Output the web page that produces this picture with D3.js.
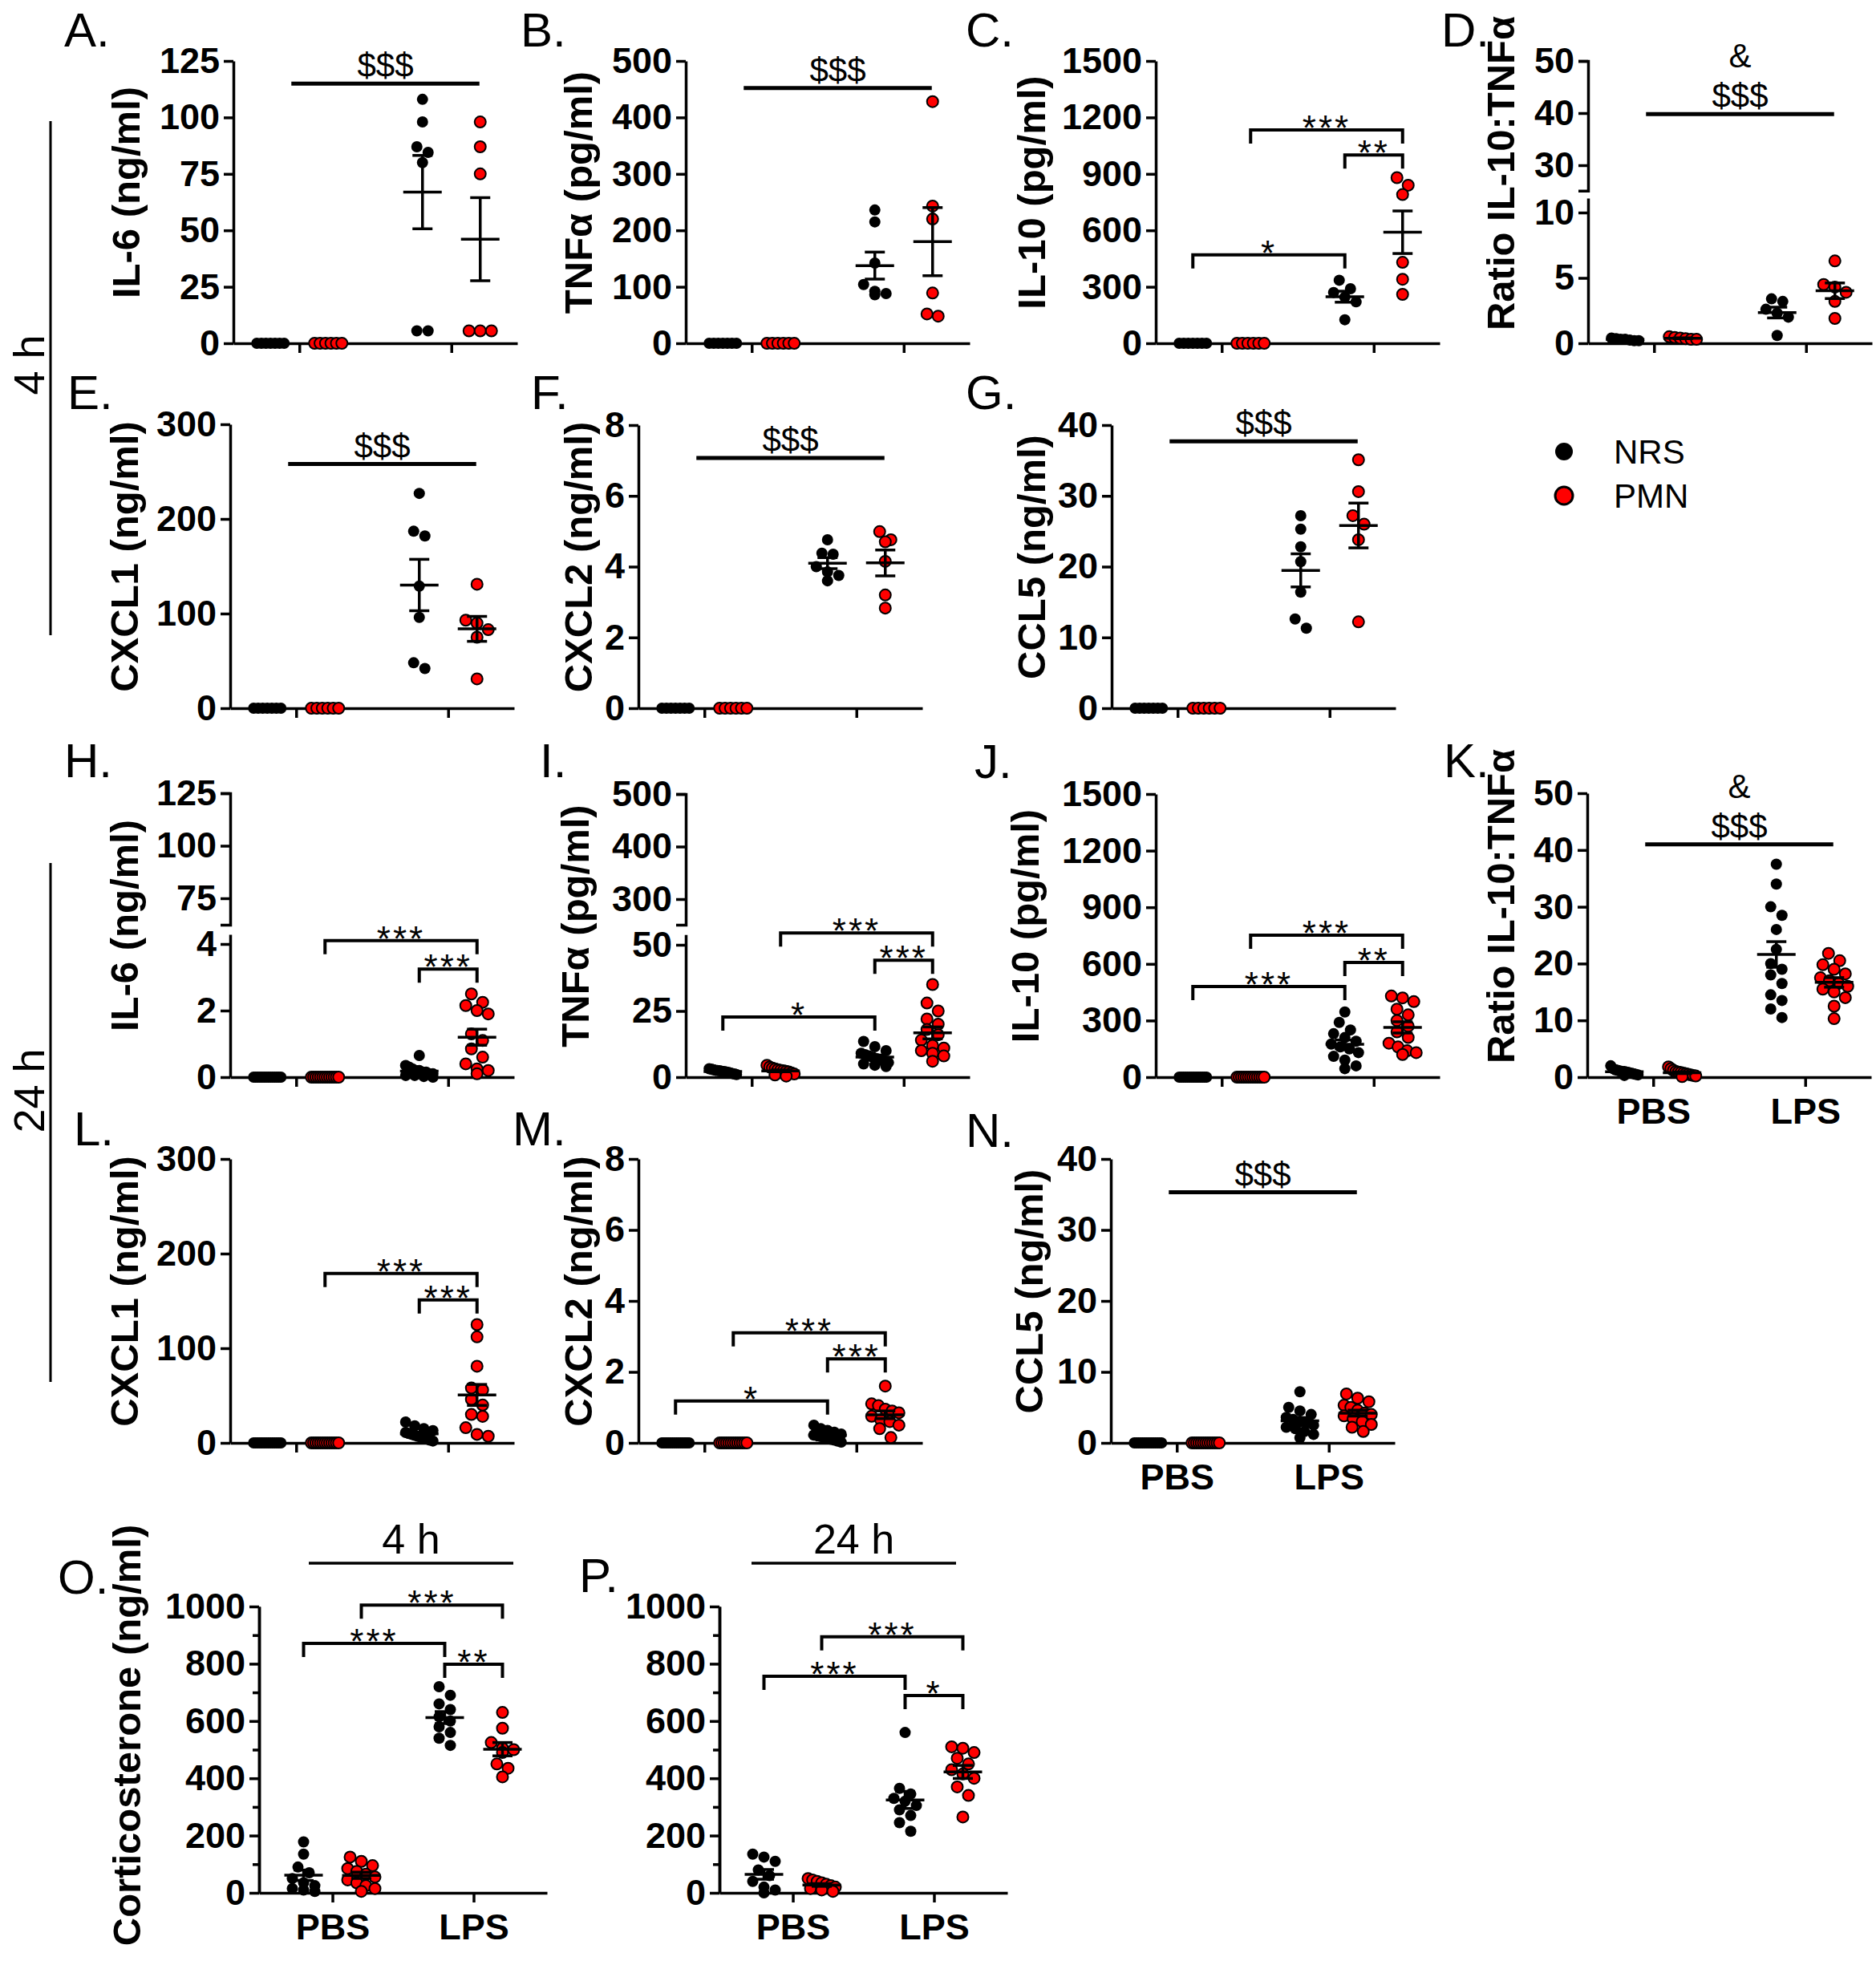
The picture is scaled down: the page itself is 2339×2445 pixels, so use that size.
<!DOCTYPE html>
<html>
<head>
<meta charset="utf-8">
<script src="https://cdn.jsdelivr.net/npm/d3@7"></script>
<style>
  body { margin: 0; background: #fff; }
  text { font-family: "Liberation Sans", Arial, sans-serif; }
</style>
</head>
<body>
<div id="chart"></div>
<script>
/* Cytokine / corticosterone dot plots, panels A-P */

// groups: NRS-PBS, PMN-PBS, NRS-LPS, PMN-LPS
const treatments = ["PBS", "LPS"];
const strains = ["NRS", "PMN"];

// ---- 4 h values ----
const il6_4h = [
  [0, 0, 0, 0, 0, 0, 0],
  [0, 0, 0, 0, 0, 0],
  [108, 98, 87, 84.5, 80, 5.5, 5.5],
  [98, 87, 75, 5.5, 5.5, 5.5],
];
const tnf_4h = [
  [0, 0, 0, 0, 0, 0, 0],
  [0, 0, 0, 0, 0, 0],
  [236, 215, 142, 104, 92, 88, 86],
  [428, 243, 220, 89, 52, 48],
];
const il10_4h = [
  [0, 0, 0, 0, 0, 0, 0],
  [0, 0, 0, 0, 0, 0],
  [335, 290, 270, 245, 220, 125],
  [880, 840, 790, 430, 340, 260],
];
const ratio_4h = [
  [0.4, 0.35, 0.3, 0.3, 0.25, 0.2, 0.2],
  [0.5, 0.45, 0.4, 0.35, 0.3, 0.3],
  [3.4, 3.2, 2.6, 2.3, 2.0, 0.6],
  [6.3, 4.5, 4.3, 3.9, 3.2, 1.9],
];
const cxcl1_4h = [
  [0, 0, 0, 0, 0, 0, 0],
  [0, 0, 0, 0, 0, 0],
  [227, 187, 182, 129, 96, 48, 42],
  [131, 93, 90, 83, 75, 31],
];
const cxcl2_4h = [
  [0, 0, 0, 0, 0, 0, 0],
  [0, 0, 0, 0, 0, 0],
  [4.76, 4.38, 4.35, 4.0, 3.85, 3.75, 3.6],
  [4.99, 4.76, 4.7, 4.15, 3.2, 2.83],
];
const ccl5_4h = [
  [0, 0, 0, 0, 0, 0, 0],
  [0, 0, 0, 0, 0, 0],
  [27.2, 25.3, 22.8, 20.7, 16.4, 12.6, 11.3],
  [35.1, 30.6, 27.2, 26.0, 23.8, 12.2],
];

// ---- 24 h values ----
const il6_24h = [
  [0, 0, 0, 0, 0, 0, 0, 0, 0, 0, 0, 0, 0, 0],
  [0, 0, 0, 0, 0, 0, 0, 0, 0, 0, 0, 0, 0],
  [0.65, 0.35, 0.3, 0.25, 0.2, 0.2, 0.15, 0.15, 0.1, 0.1, 0.05, 0.05, 0.02, 0],
  [2.5, 2.25, 2.15, 2.0, 1.9, 1.3, 1.1, 0.85, 0.6, 0.4, 0.25, 0.2, 0.1],
];
const tnf_24h = [
  [3.2, 3, 2.8, 2.6, 2.5, 2.4, 2.2, 2.1, 2, 1.8, 1.6, 1.4, 1.2, 1],
  [4.5, 3.8, 3.4, 3.1, 2.8, 2.6, 2.4, 2.2, 2, 1.6, 1.2, 0.8, 0.4],
  [13.5, 11.5, 10, 9, 8.5, 8, 7.5, 7, 6.5, 6, 5.5, 5, 4.5, 4],
  [35, 28, 25, 22, 20, 18, 16, 14, 12, 11, 10, 9, 8, 6],
];
const il10_24h = [
  [0, 0, 0, 0, 0, 0, 0, 0, 0, 0, 0, 0, 0, 0],
  [0, 0, 0, 0, 0, 0, 0, 0, 0, 0, 0, 0, 0],
  [345, 290, 250, 230, 210, 190, 175, 160, 150, 130, 110, 90, 60, 45],
  [430, 420, 400, 360, 330, 300, 270, 240, 210, 180, 160, 140, 130, 120],
];
const ratio_24h = [
  [2, 1.5, 1.3, 1.2, 1.1, 1, 1, 0.9, 0.8, 0.7, 0.6, 0.5, 0.4, 0.3],
  [1.8, 1.5, 1.2, 1, 0.9, 0.8, 0.7, 0.6, 0.5, 0.4, 0.3, 0.2, 0.1],
  [37.5, 34, 30, 28.5, 26, 22.5, 20, 19, 18, 16.5, 14.5, 13.5, 12, 10.5],
  [21.8, 20.5, 19.8, 19, 18.2, 17.5, 17, 16.5, 16, 15.5, 15, 14, 12.5, 10.3],
];
const cxcl1_24h = [
  [0, 0, 0, 0, 0, 0, 0, 0, 0, 0, 0, 0, 0, 0],
  [0, 0, 0, 0, 0, 0, 0, 0, 0, 0, 0, 0, 0],
  [22, 18, 15, 13, 11, 10, 9, 8, 7, 6, 5, 4, 3, 2],
  [125, 112, 81, 58, 56, 46, 40, 30, 28, 16, 9, 7],
];
const cxcl2_24h = [
  [0, 0, 0, 0, 0, 0, 0, 0, 0, 0, 0, 0, 0, 0],
  [0, 0, 0, 0, 0, 0, 0, 0, 0, 0, 0, 0, 0],
  [0.5, 0.4, 0.35, 0.3, 0.25, 0.22, 0.2, 0.18, 0.15, 0.12, 0.1, 0.08, 0.05, 0.02],
  [1.6, 1.1, 1.05, 0.95, 0.9, 0.85, 0.75, 0.65, 0.6, 0.5, 0.4, 0.15],
];
const ccl5_24h = [
  [0, 0, 0, 0, 0, 0, 0, 0, 0, 0, 0, 0, 0, 0],
  [0, 0, 0, 0, 0, 0, 0, 0, 0, 0, 0, 0, 0],
  [7.2, 5.0, 4.5, 4.0, 3.6, 3.3, 3.0, 2.8, 2.5, 2.2, 2.0, 1.6, 1.2, 0.7],
  [6.9, 6.3, 5.8, 5.3, 5.0, 4.6, 4.2, 4.0, 3.8, 3.4, 3.0, 2.6, 2.2, 1.6],
];

// ---- corticosterone ----
const cort_4h = [
  [178, 135, 90, 70, 50, 35, 25, 15, 10, 5],
  [125, 110, 95, 85, 75, 65, 55, 45, 35, 25, 15, 5],
  [720, 690, 660, 640, 615, 600, 580, 560, 540, 515],
  [630, 575, 525, 505, 500, 490, 450, 435, 405],
];
const cort_24h = [
  [135, 125, 110, 80, 60, 40, 20, 10, 0],
  [50, 45, 40, 35, 30, 25, 20, 15, 10, 5],
  [560, 365, 345, 330, 320, 305, 290, 270, 245, 215],
  [510, 505, 490, 470, 450, 430, 415, 400, 370, 340, 265],
];

// ---- tick labels ----
const ticksIl6 = [0, 25, 50, 75, 100, 125];
const ticksTnf = [0, 100, 200, 300, 400, 500];
const ticksIl10 = [0, 300, 600, 900, 1200, 1500];
const ticksCxcl1 = [0, 100, 200, 300];
const ticksCxcl2 = [0, 2, 4, 6, 8];
const ticksCcl5 = [0, 10, 20, 30, 40];
const ticksRatio = [0, 10, 20, 30, 40, 50];
const ticksRatioLow = [0, 5, 10];
const ticksRatioUp = [30, 40, 50];
const ticksIl6Low = [0, 2, 4];
const ticksIl6Up = [75, 100, 125];
const ticksTnfLow = [0, 25, 50];
const ticksTnfUp = [300, 400, 500];
const ticksCort = [0, 200, 400, 600, 800, 1000];
const ticksCortMinor = [100, 300, 500, 700, 900];

// ---- significance: [from group, to group, bracket height (axis units), label] ----
const sigIl10_4h = [["NRS PBS", "NRS LPS", 470, "*"], ["PMN PBS", "PMN LPS", 1133, "***"], ["NRS LPS", "PMN LPS", 1000, "**"]];
const sigIl6_24h = [["PMN PBS", "PMN LPS", 4.1, "***"], ["NRS LPS", "PMN LPS", 3.25, "***"]];
const sigTnf_24h = [["PMN PBS", "PMN LPS", 54.5, "***"], ["NRS LPS", "PMN LPS", 44.2, "***"], ["NRS PBS", "NRS LPS", 22.7, "*"]];
const sigIl10_24h = [["PMN PBS", "PMN LPS", 752, "***"], ["NRS LPS", "PMN LPS", 608, "**"], ["NRS PBS", "NRS LPS", 480, "***"]];
const sigCxcl1_24h = [["PMN PBS", "PMN LPS", 179, "***"], ["NRS LPS", "PMN LPS", 151, "***"]];
const sigCxcl2_24h = [["PMN PBS", "PMN LPS", 3.1, "***"], ["NRS LPS", "PMN LPS", 2.37, "***"], ["NRS PBS", "NRS LPS", 1.18, "*"]];
const sigCort_4h = [["PMN PBS", "PMN LPS", 1005, "***"], ["NRS PBS", "NRS LPS", 871, "***"], ["NRS LPS", "PMN LPS", 798, "**"]];
const sigCort_24h = [["PMN PBS", "PMN LPS", 894, "***"], ["NRS PBS", "NRS LPS", 756, "***"], ["NRS LPS", "PMN LPS", 689, "*"]];

// ---- layout ----
const W = 2339, H = 2445;
const R = 7; // dot radius
const SPREAD = 34;
const RED = "#ff0000";

const svg = d3.select("#chart").append("svg").attr("width", W).attr("height", H);

const panels = [
  { letter: "A", lx: 80, ly: 58, data: il6_4h, title: "IL-6 (ng/ml)", tx: 159, ax: 291,
    low: { domain: [0, 125], range: [428, 76], ticks: ticksIl6 }, dollar: { v: 115 } },
  { letter: "B", lx: 649, ly: 58, data: tnf_4h, title: "TNFα (pg/ml)", tx: 723, ax: 855,
    low: { domain: [0, 500], range: [428, 76], ticks: ticksTnf }, dollar: { v: 452 } },
  { letter: "C", lx: 1204, ly: 58, data: il10_4h, title: "IL-10 (pg/ml)", tx: 1288, ax: 1441,
    low: { domain: [0, 1500], range: [428, 76], ticks: ticksIl10 }, sig: sigIl10_4h },
  { letter: "D", lx: 1797, ly: 58, data: ratio_4h, title: "Ratio IL-10:TNFα", tx: 1873, ax: 1980, toff: -36,
    low: { domain: [0, 10], range: [428, 265], end: 11.1, ticks: ticksRatioLow },
    up: { domain: [30, 50], range: [206, 76], start: 25.1, ticks: ticksRatioUp },
    dollar: { v: 39.8, up: true, amp: true } },
  { letter: "E", lx: 84, ly: 510, data: cxcl1_4h, title: "CXCL1 (ng/ml)", tx: 157, ax: 287,
    low: { domain: [0, 300], range: [883, 529], ticks: ticksCxcl1 }, dollar: { v: 258 } },
  { letter: "F", lx: 662, ly: 510, data: cxcl2_4h, title: "CXCL2 (ng/ml)", tx: 723, ax: 796,
    low: { domain: [0, 8], range: [883, 530], ticks: ticksCxcl2 }, dollar: { v: 7.07 } },
  { letter: "G", lx: 1204, ly: 510, data: ccl5_4h, title: "CCL5 (ng/ml)", tx: 1288, ax: 1386,
    low: { domain: [0, 40], range: [883, 530], ticks: ticksCcl5 }, dollar: { v: 37.7 } },
  { letter: "H", lx: 80, ly: 969, data: il6_24h, title: "IL-6 (ng/ml)", tx: 157, ax: 287,
    low: { domain: [0, 4], range: [1343, 1177], end: 4.29, ticks: ticksIl6Low },
    up: { domain: [75, 125], range: [1120, 989], start: 62.4, ticks: ticksIl6Up }, sig: sigIl6_24h },
  { letter: "I", lx: 673, ly: 969, data: tnf_24h, title: "TNFα (pg/ml)", tx: 719, ax: 855,
    low: { domain: [0, 50], range: [1343, 1178], end: 53.9, ticks: ticksTnfLow },
    up: { domain: [300, 500], range: [1121, 990], start: 251, ticks: ticksTnfUp }, sig: sigTnf_24h },
  { letter: "J", lx: 1215, ly: 970, data: il10_24h, title: "IL-10 (pg/ml)", tx: 1280, ax: 1441,
    low: { domain: [0, 1500], range: [1343, 990], ticks: ticksIl10 }, sig: sigIl10_24h },
  { letter: "K", lx: 1800, ly: 969, data: ratio_24h, title: "Ratio IL-10:TNFα", tx: 1873, ax: 1979, toff: -36,
    low: { domain: [0, 50], range: [1343, 989], ticks: ticksRatio }, dollar: { v: 41, amp: true }, xlabels: true },
  { letter: "L", lx: 92, ly: 1428, data: cxcl1_24h, title: "CXCL1 (ng/ml)", tx: 157, ax: 287,
    low: { domain: [0, 300], range: [1799, 1445], ticks: ticksCxcl1 }, sig: sigCxcl1_24h },
  { letter: "M", lx: 639, ly: 1428, data: cxcl2_24h, title: "CXCL2 (ng/ml)", tx: 723, ax: 796,
    low: { domain: [0, 8], range: [1799, 1445], ticks: ticksCxcl2 }, sig: sigCxcl2_24h },
  { letter: "N", lx: 1204, ly: 1430, data: ccl5_24h, title: "CCL5 (ng/ml)", tx: 1285, ax: 1385,
    low: { domain: [0, 40], range: [1799, 1445], ticks: ticksCcl5 }, dollar: { v: 35.3 }, xlabels: true },
  { letter: "O", lx: 72, ly: 1987, data: cort_4h, title: "Corticosterone (ng/ml)", tx: 160, ax: 323, toff: -18, wide: true,
    low: { domain: [0, 1000], range: [2360, 2003], ticks: ticksCort, minor: ticksCortMinor },
    sig: sigCort_4h, xlabels: true, header: { text: "4 h", x1: 385, x2: 640 } },
  { letter: "P", lx: 722, ly: 1985, data: cort_24h, title: null, tx: 0, ax: 897, wide: true,
    low: { domain: [0, 1000], range: [2360, 2003], ticks: ticksCort, minor: ticksCortMinor },
    sig: sigCort_24h, xlabels: true, header: { text: "24 h", x1: 937, x2: 1192 } },
];

function styleAxis(g, size) {
  g.attr("font-size", size)
    .attr("font-family", "'Liberation Sans', Arial, sans-serif")
    .attr("font-weight", "bold");
  g.selectAll("path, line").attr("stroke", "#000").attr("stroke-width", 3.5);
  g.selectAll("text").attr("fill", "#000");
}

// spread points of similar height sideways, GraphPad style
function swarm(vals, yOf, cx) {
  const pts = vals.map((v) => ({ v, y: yOf(v) })).sort((a, b) => a.y - b.y);
  const out = [];
  let bin = [];
  const flush = () => {
    const n = bin.length;
    const s = n > 1 ? Math.min(R * 2, SPREAD / (n - 1)) : 0;
    bin.forEach((p, i) => {
      p.x = cx + (i - (n - 1) / 2) * s;
      out.push(p);
    });
    bin = [];
  };
  pts.forEach((p) => {
    if (bin.length && p.y - bin[0].y > R * 1.7) flush();
    bin.push(p);
  });
  flush();
  return out;
}

function drawPanel(p) {
  const g = svg.append("g");
  const zero = p.low.range[0];
  const top = p.up ? p.up.range[1] : p.low.range[1];
  const fmt = (d) => String(d);

  const xT = d3.scalePoint().domain(treatments)
    .range([p.ax, p.ax + (p.wide ? 359 : 354)])
    .padding(p.wide ? 0.52 : 0.434);
  const xS = d3.scalePoint().domain(strains).range([-36, 36]);
  const gx = (name) => {
    const [s, t] = name.split(" ");
    return xT(t) + xS(s);
  };

  const yLow = d3.scaleLinear().domain(p.low.domain).range(p.low.range);
  const yUp = p.up ? d3.scaleLinear().domain(p.up.domain).range(p.up.range) : null;
  const yOf = (v) => (!yUp || v <= p.low.end ? yLow(v) : yUp(v));

  // y axis (one or two segments)
  const lowEnd = p.low.end !== undefined ? p.low.end : p.low.domain[1];
  const axLow = d3.scaleLinear().domain([0, lowEnd]).range([yLow(0), yLow(lowEnd)]);
  const ga = g.append("g").attr("transform", `translate(${p.ax},0)`)
    .call(d3.axisLeft(axLow).tickValues(p.low.ticks).tickFormat(fmt)
      .tickSize(12).tickSizeOuter(0).tickPadding(5));
  styleAxis(ga, 45);
  if (p.low.minor) {
    const gm = g.append("g").attr("transform", `translate(${p.ax},0)`)
      .call(d3.axisLeft(axLow).tickValues(p.low.minor).tickSize(8).tickSizeOuter(0).tickFormat(""));
    styleAxis(gm, 45);
  }
  if (yUp) {
    const axUp = d3.scaleLinear().domain([p.up.start, p.up.domain[1]])
      .range([yUp(p.up.start), yUp(p.up.domain[1])]);
    const gu = g.append("g").attr("transform", `translate(${p.ax},0)`)
      .call(d3.axisLeft(axUp).tickValues(p.up.ticks).tickFormat(fmt)
        .tickSize(12).tickSizeOuter(12).tickPadding(5));
    styleAxis(gu, 45);
  }

  // x axis
  const gxAxis = g.append("g").attr("transform", `translate(0,${zero})`)
    .call(d3.axisBottom(xT).tickSize(12).tickSizeOuter(0).tickPadding(14)
      .tickFormat(p.xlabels ? (d) => d : () => ""));
  styleAxis(gxAxis, 45);

  // panel letter
  svg.append("text").attr("x", p.lx).attr("y", p.ly)
    .attr("font-size", 60).text(p.letter + ".");

  // y title
  if (p.title) {
    const cy = (zero + top) / 2 + (p.toff !== undefined ? p.toff : -12);
    svg.append("text")
      .attr("transform", `translate(${p.tx},${cy}) rotate(-90)`)
      .attr("text-anchor", "middle").attr("dy", "0.3em")
      .attr("font-size", 49).attr("font-weight", "bold")
      .text(p.title);
  }

  // dots
  p.data.forEach((vals, gi) => {
    const strain = strains[gi % 2];
    const cx = xT(treatments[Math.floor(gi / 2)]) + xS(strain);
    const pts = swarm(vals, yOf, cx);
    g.append("g").selectAll("circle").data(pts).join("circle")
      .attr("cx", (d) => d.x).attr("cy", (d) => d.y).attr("r", R)
      .attr("fill", strain === "NRS" ? "#000" : RED)
      .attr("stroke", "#000").attr("stroke-width", strain === "NRS" ? 0 : 2);
  });

  // mean +/- SEM
  p.data.forEach((vals, gi) => {
    const sd = d3.deviation(vals);
    if (!sd) return;
    const cx = xT(treatments[Math.floor(gi / 2)]) + xS(strains[gi % 2]);
    const m = d3.mean(vals);
    const se = sd / Math.sqrt(vals.length);
    const eb = g.append("g").attr("stroke", "#000").attr("stroke-width", 3.5);
    eb.append("line").attr("x1", cx - 24).attr("x2", cx + 24).attr("y1", yOf(m)).attr("y2", yOf(m));
    eb.append("line").attr("x1", cx).attr("x2", cx).attr("y1", yOf(m - se)).attr("y2", yOf(m + se));
    [m - se, m + se].forEach((v) =>
      eb.append("line").attr("x1", cx - 12.5).attr("x2", cx + 12.5).attr("y1", yOf(v)).attr("y2", yOf(v)));
  });

  // brackets
  (p.sig || []).forEach(([a, b, v, label]) => {
    const x1 = gx(a), x2 = gx(b), y = yLow(v);
    g.append("path")
      .attr("d", `M${x1},${y + 17}V${y}H${x2}V${y + 17}`)
      .attr("fill", "none").attr("stroke", "#000").attr("stroke-width", 4);
    g.append("text").attr("x", (x1 + x2) / 2).attr("y", y + 13)
      .attr("text-anchor", "middle").attr("font-size", 44).attr("letter-spacing", 3)
      .text(label);
  });

  // main LPS effect line
  if (p.dollar) {
    const y = p.dollar.up ? yUp(p.dollar.v) : yLow(p.dollar.v);
    const x1 = xT("PBS") - 10, x2 = xT("LPS") + 35;
    g.append("line").attr("x1", x1).attr("x2", x2).attr("y1", y).attr("y2", y)
      .attr("stroke", "#000").attr("stroke-width", 5);
    g.append("text").attr("x", (x1 + x2) / 2).attr("y", y - 8)
      .attr("text-anchor", "middle").attr("font-size", 42).text("$$$");
    if (p.dollar.amp) {
      g.append("text").attr("x", (x1 + x2) / 2).attr("y", y - 58)
        .attr("text-anchor", "middle").attr("font-size", 42).text("&");
    }
  }

  // time header (corticosterone row)
  if (p.header) {
    const h = p.header;
    g.append("line").attr("x1", h.x1).attr("x2", h.x2).attr("y1", 1949).attr("y2", 1949)
      .attr("stroke", "#000").attr("stroke-width", 3.5);
    g.append("text").attr("x", (h.x1 + h.x2) / 2).attr("y", 1937)
      .attr("text-anchor", "middle").attr("font-size", 52).text(h.text);
  }
}

panels.forEach(drawPanel);

// row labels at left
[{ text: "4 h", y1: 151, y2: 792, ty: 455 }, { text: "24 h", y1: 1076, y2: 1723, ty: 1360 }].forEach((r) => {
  svg.append("line").attr("x1", 63).attr("x2", 63).attr("y1", r.y1).attr("y2", r.y2)
    .attr("stroke", "#000").attr("stroke-width", 3);
  svg.append("text")
    .attr("transform", `translate(36,${r.ty}) rotate(-90)`)
    .attr("text-anchor", "middle").attr("dy", "0.36em")
    .attr("font-size", 54).text(r.text);
});

// legend
const legend = svg.append("g").attr("transform", "translate(1950,563)");
strains.forEach((s, i) => {
  legend.append("circle").attr("cx", 0).attr("cy", i * 55).attr("r", 11)
    .attr("fill", s === "NRS" ? "#000" : RED)
    .attr("stroke", "#000").attr("stroke-width", s === "NRS" ? 0 : 3);
  legend.append("text").attr("x", 62).attr("y", i * 55).attr("dy", "0.36em")
    .attr("font-size", 42).text(s);
});
</script>
</body>
</html>
